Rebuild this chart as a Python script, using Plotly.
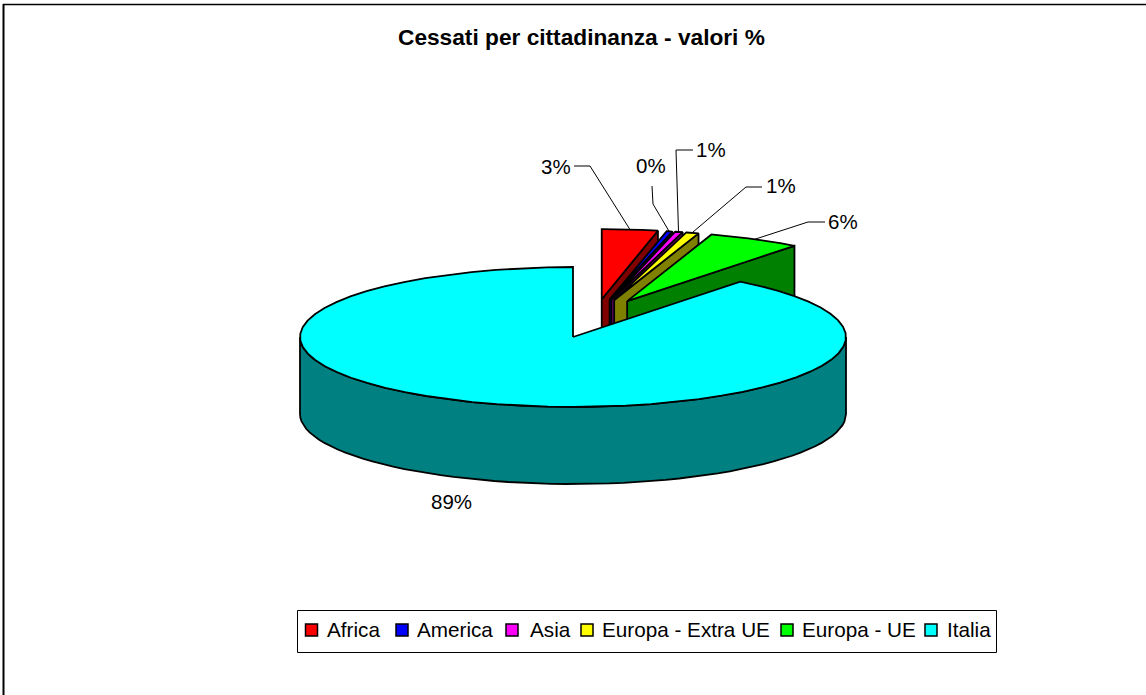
"""Cessati per cittadinanza: exploded 3D-look pie drawn with filled scatter traces."""

import numpy as np
import plotly.graph_objects as go

categories = ["Africa", "America", "Asia", "Europa - Extra UE", "Europa - UE", "Italia"]
shares = [3.3, 0.4, 0.5, 0.8, 5.5, 89.5]
share_labels = ["3%", "0%", "1%", "1%", "6%", "89%"]

top_colors = ["#ff0000", "#0000ff", "#ff00ff", "#ffff00", "#00ff00", "#00ffff"]
side_colors = ["#800000", "#000080", "#800080", "#808000", "#008000", "#008080"]

# pie geometry, in page pixels (the axes below map 1:1 to the page)
CX, CY, RX, RY, DEPTH = 573, 337, 273, 70, 77
EXPLODE = 0.55
OUTLINE = dict(color="#000000", width=1.8)
FONT = "Liberation Sans, Arial, sans-serif"

# leader line: text centre, then the elbow(s) before it reaches the slice
label_pos = [(556, 166), (651, 165), (711, 149), (781, 185), (843, 221), (451, 501)]
elbows = [
    [(574, 166), (590, 166)],
    [(652, 186), (653, 204)],
    [(693, 150), (676, 150)],
    [(762, 187), (746, 187)],
    [(825, 222), (808, 222)],
    [],
]
legend_swatch_x = [311.5, 402, 512, 587, 787, 931]
legend_text_x = [325, 415, 528, 600, 800, 945]
LEGEND_Y = 629


def rim(cx, cy, start, end, n=60):
    """Points along the ellipse between two clockwise-from-top angles (degrees)."""
    t = np.radians(np.linspace(start, end, max(n, 2)))
    return cx + RX * np.sin(t), cy - RY * np.cos(t)


def polygon(fig, xs, ys, color, name):
    fig.add_trace(
        go.Scatter(
            x=list(xs) + [xs[0]],
            y=list(ys) + [ys[0]],
            mode="lines",
            fill="toself",
            fillcolor=color,
            line=OUTLINE,
            name=name,
            hoverinfo="name",
            showlegend=False,
        )
    )


fig = go.Figure()

edges = np.concatenate([[0], np.cumsum(shares)]) * 3.6
leader_ends = []
for i, name in enumerate(categories):
    start, end = edges[i], edges[i + 1]
    mid = (start + end) / 2

    if name == "Italia":
        ax, ay = CX, CY
        wx, wy = rim(ax, ay, 90, 270)
        polygon(
            fig,
            np.concatenate([wx, wx[::-1]]),
            np.concatenate([wy, wy[::-1] + DEPTH]),
            side_colors[i],
            name,
        )
        lx, ly = ax, ay
    else:
        # small slices are pulled out towards the upper right
        d = np.radians(8.3 + 0.46 * mid)
        ax = CX + EXPLODE * RX * np.sin(d)
        ay = CY - EXPLODE * RY * np.cos(d)
        ex, ey = rim(ax, ay, end, end, 2)
        polygon(
            fig,
            [ax, ex[0], ex[0], ax],
            [ay, ey[0], ey[0] + DEPTH, ay + DEPTH],
            side_colors[i],
            name,
        )
        lx, ly = ax + RX * np.sin(np.radians(mid)), ay - RY * np.cos(np.radians(mid))

    rx_pts, ry_pts = rim(ax, ay, start, end)
    polygon(
        fig,
        np.concatenate([[ax], rx_pts]),
        np.concatenate([[ay], ry_pts]),
        top_colors[i],
        name,
    )
    leader_ends.append((lx, ly))

# leader lines
for (lx, ly), bends in zip(leader_ends, elbows):
    if not bends:
        continue
    pts = bends + [(lx, ly)]
    fig.add_trace(
        go.Scatter(
            x=[p[0] for p in pts],
            y=[p[1] for p in pts],
            mode="lines",
            line=dict(color="#000000", width=1),
            hoverinfo="skip",
            showlegend=False,
        )
    )

# hand-built legend, plotly's own swatches cannot get this small
fig.add_trace(
    go.Scatter(
        x=legend_swatch_x,
        y=[LEGEND_Y + 1] * len(categories),
        mode="markers",
        marker=dict(
            symbol="square",
            size=12,
            color=top_colors,
            line=dict(color="#000000", width=1.5),
        ),
        text=categories,
        hoverinfo="text",
        showlegend=False,
    )
)

annotations = [
    dict(
        x=581,
        y=37,
        text="<b>Cessati per cittadinanza - valori %</b>",
        font=dict(size=22.7),
        showarrow=False,
    )
]
for (x, y), text in zip(label_pos, share_labels):
    annotations.append(dict(x=x, y=y, text=text, font=dict(size=20.5), showarrow=False))
for x, text in zip(legend_text_x, categories):
    annotations.append(
        dict(x=x, y=LEGEND_Y, text=text, xanchor="left", font=dict(size=20.7), showarrow=False)
    )

fig.update_layout(
    width=1146,
    height=695,
    margin=dict(l=0, r=0, t=0, b=0),
    paper_bgcolor="#ffffff",
    plot_bgcolor="#ffffff",
    font=dict(family=FONT, color="#000000"),
    showlegend=False,
    xaxis=dict(range=[0, 1146], visible=False, fixedrange=True),
    yaxis=dict(range=[695, 0], visible=False, fixedrange=True),
    annotations=annotations,
    shapes=[
        # chart frame: only its top and left edges fall inside the picture
        dict(type="line", x0=3.5, x1=3.5, y0=4, y1=695, line=dict(color="#000000", width=2)),
        dict(type="line", x0=3, x1=1146, y0=4.5, y1=4.5, line=dict(color="#000000", width=1.5)),
        dict(
            type="rect",
            x0=297.5,
            x1=996.5,
            y0=610.5,
            y1=652.5,
            line=dict(color="#000000", width=1),
        ),
    ],
)

# the page's default body margin would push the fixed-size chart 8px off
fig.write_html("out.html", config={"displayModeBar": False}, post_script="document.body.style.margin='0';")
